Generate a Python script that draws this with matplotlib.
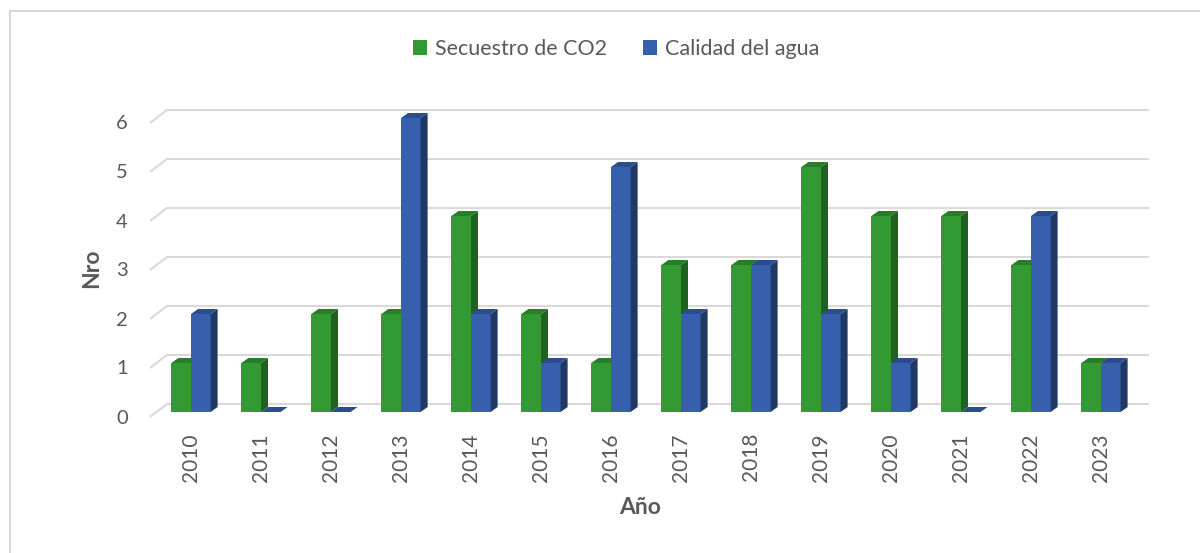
import matplotlib
matplotlib.use("Agg")
import matplotlib.pyplot as plt
from matplotlib.patches import Patch, Polygon, Rectangle
import numpy as np

years = ["2010", "2011", "2012", "2013", "2014", "2015", "2016",
         "2017", "2018", "2019", "2020", "2021", "2022", "2023"]
secuestro = [1, 1, 2, 2, 4, 2, 1, 3, 3, 5, 4, 4, 3, 1]
calidad = [2, 0, 0, 6, 2, 1, 5, 2, 3, 2, 1, 0, 4, 1]
series_names = ["Secuestro de CO2", "Calidad del agua"]
y_ticks = [0, 1, 2, 3, 4, 5, 6]

plt.rcParams['font.family'] = ['Lato', 'DejaVu Sans']
txt = '#595959'
grid_c = '#d9d9d9'
# front, side, top colours for each series
green = ('#339933', '#1f6120', '#287d28')
blue = ('#365fae', '#1f3864', '#2b4d8e')

fig = plt.figure(figsize=(12, 5.53), dpi=100)
ax = fig.add_axes([150 / 1200, 141 / 553, 1010 / 1200, 312 / 553])
ax.set_xlim(-41 / 70, 969 / 70)
ax.set_ylim(0, 312 / 49)
ax.axis('off')

# depth of the fake 3d effect, in data units
dx, dy = 7 / 70, 5 / 49

# back-wall gridlines with little floor diagonal on the left
for t in y_ticks:
    ax.plot([-41 / 70, -24 / 70, 958 / 70], [t - 5 / 49, t + 8 / 49, t + 8 / 49],
            color=grid_c, lw=1.5, clip_on=False, zorder=0, solid_capstyle='butt')
    ax.text(-0.9, t - 6 / 49, str(t), ha='right', va='center',
            fontsize=14.5, color=txt)

x = np.arange(len(years))
w = 0.28


def draw_3d(bars, cols):
    for b in bars:
        x0, h, bw = b.get_x(), b.get_height(), b.get_width()
        x1 = x0 + bw
        side = Polygon([(x1, 0), (x1, h), (x1 + dx, h + dy), (x1 + dx, dy)],
                       closed=True, facecolor=cols[1], edgecolor='none',
                       zorder=b.get_zorder())
        top = Polygon([(x0, h), (x1, h), (x1 + dx, h + dy), (x0 + dx, h + dy)],
                      closed=True, facecolor=cols[2], edgecolor='none',
                      zorder=b.get_zorder())
        ax.add_patch(side)
        ax.add_patch(top)


for i in range(len(years)):
    g = ax.bar(x[i] - w / 2, secuestro[i], w, color=green[0], zorder=2 + 2 * i)
    draw_3d(g, green)
    bl = ax.bar(x[i] + w / 2, calidad[i], w, color=blue[0], zorder=3 + 2 * i)
    draw_3d(bl, blue)

for xi, lab in zip(x, years):
    ax.text(xi, -0.43, lab, rotation=90, ha='center', va='top',
            fontsize=15, color=txt)

fig.text(92 / 1200, 1 - 268 / 553, "Nro", rotation=90, ha='center', va='center',
         fontsize=16.5, fontweight='bold', color=txt)
fig.text(640 / 1200, 1 - 507 / 553, "Año", ha='center', va='center',
         fontsize=16.5, fontweight='bold', color=txt)

handles = [Patch(facecolor=green[0]), Patch(facecolor=blue[0])]
fig.legend(handles, series_names, loc='center', bbox_to_anchor=(616 / 1200, 1 - 49 / 553),
           ncol=2, frameon=False, fontsize=15.5, labelcolor=txt,
           handlelength=0.65, handleheight=0.65, handletextpad=0.35,
           columnspacing=1.7)

fig.add_artist(Rectangle((10 / 1200, -0.1), 1.2, (553 - 11) / 553 + 0.1,
                         transform=fig.transFigure, fill=False,
                         edgecolor=grid_c, lw=1.5))

fig.savefig("out.png", dpi=100)
